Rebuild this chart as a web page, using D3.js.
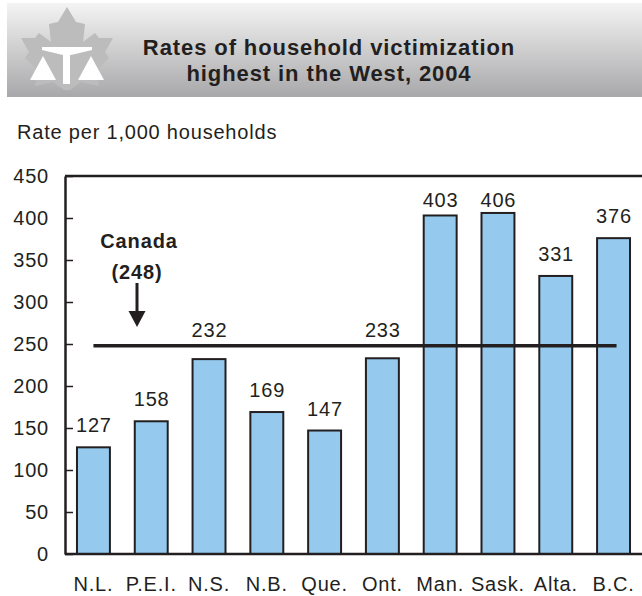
<!DOCTYPE html>
<html>
<head>
<meta charset="utf-8">
<script src="https://cdn.jsdelivr.net/npm/d3@7"></script>
<style>
  body { margin: 0; background: #fff; }
  text { font-family: "Liberation Sans", Arial, Helvetica, sans-serif; fill: #231f20; }
</style>
</head>
<body>
<svg width="642" height="596"></svg>
<script>
// provinces and household victimization rates, 2004
var provinces = ["N.L.", "P.E.I.", "N.S.", "N.B.", "Que.", "Ont.", "Man.", "Sask.", "Alta.", "B.C."];
var rates = [127, 158, 232, 169, 147, 233, 403, 406, 331, 376];
var canadaRate = 248;
var yTicks = [0, 50, 100, 150, 200, 250, 300, 350, 400, 450];

var svg = d3.select("svg"),
    width = +svg.attr("width"),
    height = +svg.attr("height");

var ink = "#231f20";

// header banner with gradient
var defs = svg.append("defs");
var grad = defs.append("linearGradient")
    .attr("id", "band")
    .attr("x1", 0).attr("y1", 0)
    .attr("x2", 0).attr("y2", 1);
grad.append("stop").attr("offset", "0%").attr("stop-color", "#f4f4f4");
grad.append("stop").attr("offset", "100%").attr("stop-color", "#a8a8aa");

svg.append("rect")
    .attr("x", 7).attr("y", 3)
    .attr("width", width - 7).attr("height", 94)
    .attr("fill", "url(#band)");

// logo: maple leaf with scales of justice
var cx = 67;
var half = [[0,7],[9,22],[18,24],[16,42],[28,33],[32,38],[46,38],[38,52],[42,58],[30,70],[32,86],[14,82],[3,90]];
var leafPts = half.map(function(p) { return [cx + p[0], p[1]]; })
    .concat(half.slice(1).reverse().map(function(p) { return [cx - p[0], p[1]]; }));
svg.append("path")
    .attr("d", d3.line()(leafPts) + "Z")
    .attr("fill", "#bcbcbc");

var logo = svg.append("g").attr("fill", "#fff");
logo.append("path").attr("d", "M42,47L92,47L92,50L71,55L63,55L42,50Z");
logo.append("rect").attr("x", 63).attr("y", 52).attr("width", 7).attr("height", 32);
logo.append("path").attr("d", "M43,56L30,80L56,80Z");
logo.append("path").attr("d", "M91,56L78,80L104,80Z");

// title
var title = svg.append("text")
    .attr("text-anchor", "middle")
    .attr("font-weight", "bold")
    .attr("font-size", 22)
    .attr("letter-spacing", "0.9px");
title.append("tspan").attr("x", 329).attr("y", 55).text("Rates of household victimization");
title.append("tspan").attr("x", 329).attr("y", 81).text("highest in the West, 2004");

svg.append("text")
    .attr("x", 17).attr("y", 139)
    .attr("font-size", 20)
    .attr("letter-spacing", "0.8px")
    .text("Rate per 1,000 households");

// scales
var x = d3.scaleBand()
    .domain(provinces)
    .range([66, 641])
    .paddingInner(0.43)
    .paddingOuter(0.19);

var y = d3.scaleLinear()
    .domain([0, 450])
    .range([554, 176]);

var plot = svg.append("g");

// bars
plot.selectAll("rect.bar")
    .data(rates)
    .enter().append("rect")
    .attr("class", "bar")
    .attr("x", function(d, i) { return x(provinces[i]); })
    .attr("y", function(d) { return y(d); })
    .attr("width", x.bandwidth())
    .attr("height", function(d) { return y(0) - y(d); })
    .attr("fill", "#95caee")
    .attr("stroke", ink)
    .attr("stroke-width", 2);

// frame lines
plot.append("line")
    .attr("x1", 65).attr("x2", width)
    .attr("y1", y(450)).attr("y2", y(450))
    .attr("stroke", ink).attr("stroke-width", 2.5);
plot.append("line")
    .attr("x1", 65).attr("x2", width)
    .attr("y1", y(0)).attr("y2", y(0))
    .attr("stroke", ink).attr("stroke-width", 2.5);

// y axis
var yAxis = plot.append("g")
    .attr("transform", "translate(65,0)")
    .call(d3.axisLeft(y).tickValues(yTicks).tickSizeInner(-8).tickSizeOuter(0).tickPadding(16));
yAxis.select(".domain").attr("stroke", ink).attr("stroke-width", 2.5);
yAxis.selectAll(".tick line").attr("stroke", ink).attr("stroke-width", 1.5);
yAxis.selectAll(".tick text")
    .attr("font-family", null)
    .attr("font-size", 20)
    .attr("letter-spacing", "0.8px")
    .attr("fill", ink);

// x axis labels
var xAxis = plot.append("g")
    .attr("transform", "translate(0," + y(0) + ")")
    .call(d3.axisBottom(x).tickSize(0).tickPadding(23));
xAxis.select(".domain").remove();
xAxis.selectAll(".tick text")
    .attr("font-family", null)
    .attr("font-size", 20)
    .attr("letter-spacing", "0.8px")
    .attr("fill", ink);

// Canada average line
var yC = y(canadaRate);
plot.append("line")
    .attr("x1", x(provinces[0]) + x.bandwidth() / 2)
    .attr("x2", x(provinces[provinces.length - 1]) + x.bandwidth() / 2 + 3)
    .attr("y1", yC).attr("y2", yC)
    .attr("stroke", ink).attr("stroke-width", 3.5);

// value labels
plot.selectAll("text.val")
    .data(rates)
    .enter().append("text")
    .attr("class", "val")
    .attr("text-anchor", "middle")
    .attr("font-size", 20)
    .attr("letter-spacing", "0.8px")
    .attr("x", function(d, i) { return x(provinces[i]) + x.bandwidth() / 2 + 0.4; })
    .attr("y", function(d) {
      var b = y(d) - 15;
      if (y(d) > yC && b - 15 < yC + 2) b = yC - 9;   // keep clear of the Canada line
      return Math.max(b, y(450) + 31);                // keep clear of the top frame
    })
    .text(function(d) { return d; });

// Canada annotation
var ax = 137;
svg.append("text")
    .attr("x", 139).attr("y", 248)
    .attr("text-anchor", "middle")
    .attr("font-weight", "bold")
    .attr("font-size", 20)
    .attr("letter-spacing", "0.9px")
    .text("Canada");
svg.append("text")
    .attr("x", ax).attr("y", 279)
    .attr("text-anchor", "middle")
    .attr("font-weight", "bold")
    .attr("font-size", 20)
    .attr("letter-spacing", "0.9px")
    .text("(" + canadaRate + ")");
svg.append("line")
    .attr("x1", ax).attr("x2", ax)
    .attr("y1", 283).attr("y2", 313)
    .attr("stroke", ink).attr("stroke-width", 3);
svg.append("path")
    .attr("d", "M" + (ax - 8.5) + ",311L" + (ax + 8.5) + ",311L" + ax + ",327Z")
    .attr("fill", ink);
</script>
</body>
</html>
